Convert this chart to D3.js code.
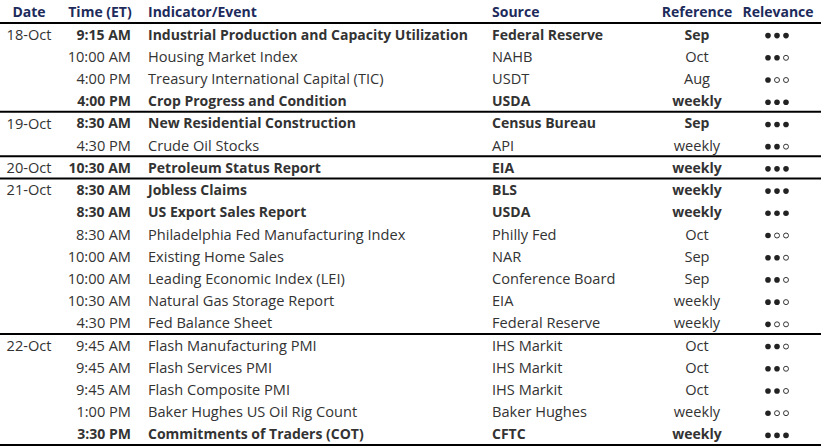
<!DOCTYPE html>
<html>
<head>
<meta charset="utf-8">
<script src="https://cdn.jsdelivr.net/npm/d3@7"></script>
<style>
  body { margin: 0; background: #fff; }
  svg text { font-family: "Open Sans", Lato, sans-serif; }
</style>
</head>
<body>
<svg id="tbl"></svg>
<script>
// table contents, one entry per row
const dates = ["18-Oct", "", "", "", "19-Oct", "", "20-Oct", "21-Oct", "", "", "", "", "", "", "22-Oct", "", "", "", ""];
const times = ["9:15 AM", "10:00 AM", "4:00 PM", "4:00 PM", "8:30 AM", "4:30 PM", "10:30 AM", "8:30 AM", "8:30 AM", "8:30 AM",
  "10:00 AM", "10:00 AM", "10:30 AM", "4:30 PM", "9:45 AM", "9:45 AM", "9:45 AM", "1:00 PM", "3:30 PM"];
const events = [
  "Industrial Production and Capacity Utilization", "Housing Market Index", "Treasury International Capital (TIC)",
  "Crop Progress and Condition", "New Residential Construction", "Crude Oil Stocks", "Petroleum Status Report",
  "Jobless Claims", "US Export Sales Report", "Philadelphia Fed Manufacturing Index", "Existing Home Sales",
  "Leading Economic Index (LEI)", "Natural Gas Storage Report", "Fed Balance Sheet", "Flash Manufacturing PMI",
  "Flash Services PMI", "Flash Composite PMI", "Baker Hughes US Oil Rig Count", "Commitments of Traders (COT)"];
const sources = ["Federal Reserve", "NAHB", "USDT", "USDA", "Census Bureau", "API", "EIA", "BLS", "USDA", "Philly Fed",
  "NAR", "Conference Board", "EIA", "Federal Reserve", "IHS Markit", "IHS Markit", "IHS Markit", "Baker Hughes", "CFTC"];
const refs = ["Sep", "Oct", "Aug", "weekly", "Sep", "weekly", "weekly", "weekly", "weekly", "Oct", "Sep", "Sep",
  "weekly", "weekly", "Oct", "Oct", "Oct", "weekly", "weekly"];
const relevance = [3, 2, 1, 3, 3, 2, 3, 3, 3, 1, 2, 2, 2, 1, 2, 2, 2, 1, 3];
const bold = [1, 0, 0, 1, 1, 0, 1, 1, 1, 0, 0, 0, 0, 0, 0, 0, 0, 0, 1];
const headers = ["Date", "Time (ET)", "Indicator/Event", "Source", "Reference", "Relevance"];

const W = 821, H = 447;
const HEAD_H = 23, BOTTOM = 445;
const TEXT = "#333333", NAVY = "#1d2b5c";
const FS = 14, FS_REG = 14.6;

const svg = d3.select("#tbl").attr("width", W).attr("height", H);

const rows = d3.range(events.length);
const y = d3.scaleBand().domain(rows).range([HEAD_H, BOTTOM]);

// column anchors
const cols = [
  { x: 29, anchor: "middle" },   // date
  { x: 131, anchor: "end" },     // time
  { x: 148, anchor: "start" },   // event
  { x: 492, anchor: "start" },   // source
  { x: 697, anchor: "middle" },  // reference
  { x: 778, anchor: "middle" }   // relevance
];
const headX = [29, 100, 148, 492, 697, 778];
const headAnchor = ["middle", "middle", "start", "start", "middle", "middle"];

svg.selectAll("text.head")
  .data(headers)
  .join("text")
  .attr("class", "head")
  .attr("x", (d, i) => headX[i])
  .attr("y", 12)
  .attr("dy", "0.35em")
  .attr("text-anchor", (d, i) => headAnchor[i])
  .attr("font-size", FS)
  .attr("font-weight", 700)
  .attr("fill", NAVY)
  .text(d => d);

// row cells
const row = svg.selectAll("g.row")
  .data(rows)
  .join("g")
  .attr("class", "row")
  .attr("transform", i => `translate(0,${y(i) + y.bandwidth() / 2 + 0.5})`);

const cellVals = i => [dates[i], times[i], events[i], sources[i], refs[i]];

row.selectAll("text")
  .data(i => cellVals(i).map((v, c) => ({ v, c, b: c > 0 && bold[i] })))
  .join("text")
  .attr("x", d => cols[d.c].x)
  .attr("dy", "0.35em")
  .attr("text-anchor", d => cols[d.c].anchor)
  .attr("font-size", d => d.b ? FS : FS_REG)
  .attr("font-weight", d => d.b ? 700 : 400)
  .attr("fill", TEXT)
  .text(d => d.v);

// relevance dots
const dotX = d3.scalePoint().domain([0, 1, 2]).range([cols[5].x - 10, cols[5].x + 8]);
row.selectAll("circle")
  .data(i => [0, 1, 2].map(k => ({ k, on: k < relevance[i] })))
  .join("circle")
  .attr("cx", d => dotX(d.k))
  .attr("cy", 1)
  .attr("r", d => d.on ? 2.8 : 2.5)
  .attr("fill", d => d.on ? "#222" : "#fff")
  .attr("stroke", "#222")
  .attr("stroke-width", d => d.on ? 0 : 0.9);

// rules: under header, between date groups, bottom
const starts = rows.filter(i => dates[i] !== "" && i > 0);
const ruleY = [HEAD_H].concat(starts.map(i => y(i)), [BOTTOM]);
svg.selectAll("line.rule")
  .data(ruleY)
  .join("line")
  .attr("class", "rule")
  .attr("x1", 0).attr("x2", W)
  .attr("y1", d => d).attr("y2", d => d)
  .attr("stroke", "#000")
  .attr("stroke-width", 2);
</script>
</body>
</html>
